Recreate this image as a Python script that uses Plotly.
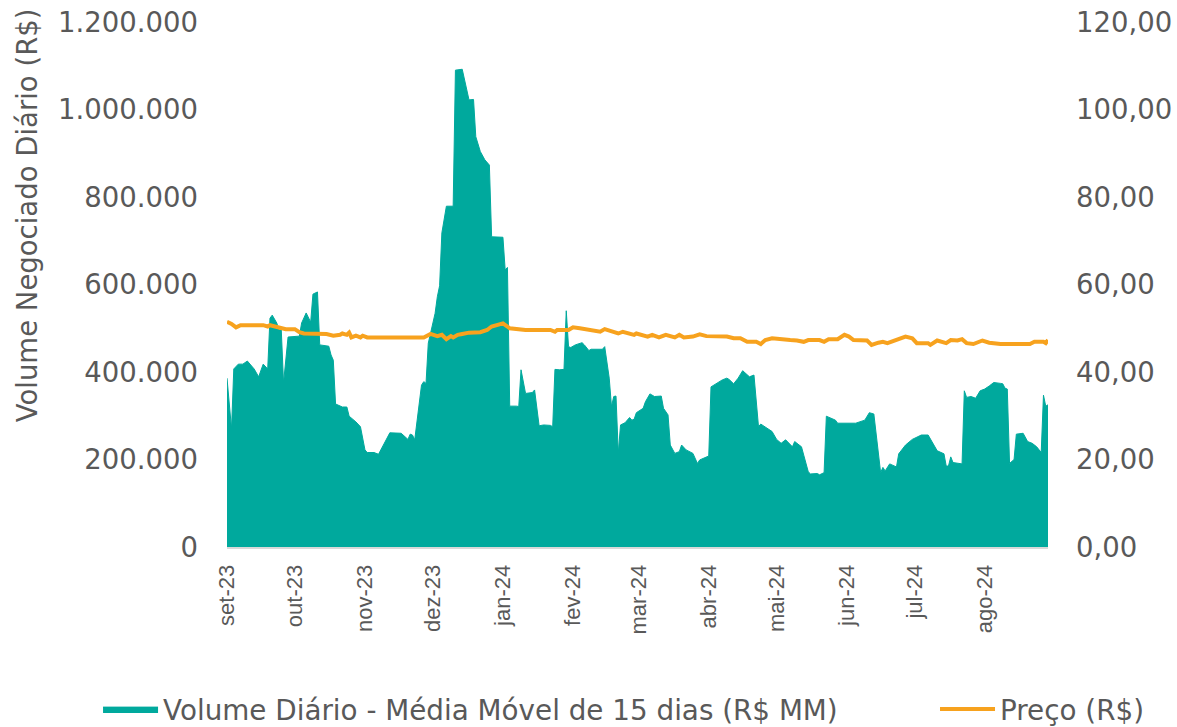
import pandas as pd
import plotly.graph_objects as go

start_date = "2023-09-01"

# Volume (15-day moving average), thousands of R$ ; day offsets from start_date
vol_days = [0, 2, 3, 5, 7, 9, 12, 14, 16, 18, 19, 20, 22, 23, 24, 25, 27, 32, 33, 35, 37, 38, 40, 41, 45, 46, 47, 48,
            51, 53, 54, 57, 59, 61, 62, 65, 67, 72, 77, 80, 81, 82, 83, 86, 87, 88, 89, 92, 93, 94, 95, 97, 100, 101,
            104, 107, 109, 110, 112, 114, 116, 117, 122, 123, 124, 125, 128, 129, 130, 132, 135, 136, 138, 140, 143,
            144, 145, 147, 149, 150, 151, 152, 154, 157, 158, 160, 161, 166, 167, 169, 170, 171, 172, 173, 174, 176,
            178, 179, 180, 181, 184, 185, 187, 189, 192, 193, 195, 196, 198, 200, 201, 203, 206, 208, 209, 213, 214,
            217, 219, 221, 222, 224, 226, 228, 230, 231, 233, 235, 236, 238, 241, 243, 245, 247, 250, 251, 254, 255,
            257, 258, 261, 262, 264, 265, 269, 270, 278, 282, 284, 286, 289, 290, 291, 293, 296, 297, 300, 303, 307,
            310, 312, 314, 317, 318, 319, 320, 321, 325, 326, 327, 329, 331, 333, 335, 337, 339, 342, 343, 344, 345,
            346, 348, 349, 352, 354, 356, 358, 360, 361, 362, 363]
vol_k = [386, 270, 407, 418, 418, 425, 407, 389, 418, 407, 523, 530, 512, 496, 496, 375, 480, 482, 512, 535, 514, 578,
         583, 462, 459, 439, 427, 327, 320, 320, 299, 286, 275, 222, 216, 216, 212, 261, 260, 246, 258, 256, 245, 370,
         378, 374, 466, 534, 572, 597, 718, 779, 779, 1090, 1092, 1022, 1023, 938, 904, 885, 873, 709, 708, 633, 639,
         322, 322, 321, 405, 351, 353, 359, 277, 279, 278, 275, 406, 405, 406, 540, 458, 456, 462, 467, 462, 449, 452,
         452, 458, 386, 321, 344, 345, 214, 279, 284, 296, 290, 292, 307, 317, 332, 350, 344, 345, 317, 302, 233, 214,
         218, 233, 222, 214, 191, 199, 208, 366, 376, 382, 386, 383, 373, 386, 403, 393, 389, 393, 275, 281, 274, 264,
         246, 237, 245, 229, 241, 229, 210, 172, 167, 168, 165, 170, 299, 290, 283, 283, 290, 307, 304, 170, 182, 174,
         190, 183, 213, 233, 246, 256, 256, 237, 220, 213, 185, 185, 206, 193, 190, 357, 342, 344, 340, 357, 361, 368,
         376, 374, 373, 363, 361, 191, 200, 258, 260, 241, 237, 229, 216, 347, 322, 325]

# Price (R$)
price_days = [0, 2, 4, 6, 16, 18, 19, 24, 26, 30, 32, 34, 44, 47, 50, 51, 53, 54, 55, 57, 59, 60, 62, 87, 90, 93, 95,
              97, 99, 100, 102, 104, 107, 112, 115, 117, 119, 122, 124, 125, 132, 143, 145, 146, 151, 153, 156, 158,
              165, 167, 170, 173, 175, 180, 181, 186, 188, 191, 194, 198, 200, 202, 206, 209, 212, 221, 224, 227, 230,
              234, 236, 238, 241, 244, 249, 252, 255, 257, 262, 264, 266, 270, 273, 275, 277, 283, 285, 288, 290, 292,
              296, 300, 303, 305, 310, 311, 314, 318, 320, 323, 325, 327, 330, 334, 337, 342, 355, 357, 361, 362, 363]
price = [51.5, 51.0, 50.2, 50.7, 50.7, 50.4, 50.7, 50.2, 49.8, 49.8, 49.1, 48.8, 48.7, 48.3, 48.5, 48.8, 48.5, 49.0,
         47.9, 48.3, 47.9, 48.3, 47.9, 47.9, 48.7, 48.2, 48.5, 47.5, 48.2, 47.9, 48.5, 48.7, 49.0, 49.1, 49.6, 50.4,
         50.7, 51.1, 50.4, 50.0, 49.6, 49.6, 49.2, 49.6, 49.6, 50.2, 50.0, 49.8, 49.2, 49.8, 49.4, 48.8, 49.2, 48.5,
         48.8, 48.1, 48.5, 47.9, 48.5, 47.9, 48.5, 47.9, 48.1, 48.6, 48.2, 48.1, 47.7, 47.7, 46.9, 46.9, 46.4, 47.3,
         47.7, 47.5, 47.3, 47.2, 46.9, 47.3, 47.3, 46.9, 47.5, 47.5, 48.5, 48.1, 47.3, 47.2, 46.2, 46.7, 46.9, 46.6,
         47.3, 48.1, 47.7, 46.6, 46.6, 46.2, 47.2, 46.6, 47.3, 47.2, 47.5, 46.6, 46.4, 47.2, 46.7, 46.4, 46.4, 46.9,
         46.9, 46.6, 47.3]

tick_dates = ["2023-09-01", "2023-10-01", "2023-11-01", "2023-12-01", "2024-01-01", "2024-02-01", "2024-03-01",
              "2024-04-01", "2024-05-01", "2024-06-01", "2024-07-01", "2024-08-01"]
tick_text = ["set-23", "out-23", "nov-23", "dez-23", "jan-24", "fev-24", "mar-24", "abr-24", "mai-24", "jun-24",
             "jul-24", "ago-24"]

y_title = "Volume Negociado Diário (R$)"

base = pd.Timestamp(start_date)
vol_x = [base + pd.Timedelta(days=d) for d in vol_days]
vol_y = [v * 1000 for v in vol_k]
price_x = [base + pd.Timedelta(days=d) for d in price_days]

TEAL = "#00A99D"
ORANGE = "#F7A21E"
GREY = "#595959"
FONT = "DejaVu Sans"

fig = go.Figure()
fig.add_trace(go.Scatter(
    x=vol_x, y=vol_y, name="Volume Diário - Média Móvel de 15 dias (R$ MM)",
    mode="lines", fill="tozeroy", fillcolor=TEAL, line=dict(color=TEAL, width=1),
    yaxis="y", legend="legend"))
fig.add_trace(go.Scatter(
    x=price_x, y=price, name="Preço (R$)", mode="lines",
    line=dict(color=ORANGE, width=4), yaxis="y2", legend="legend2"))

legend_common = dict(orientation="h", xref="container", yref="container",
                     y=0.024, xanchor="left", yanchor="middle",
                     font=dict(size=27.8, color=GREY, family=FONT), itemwidth=55,
                     bgcolor="rgba(0,0,0,0)")

fig.update_layout(
    width=1177, height=727,
    margin=dict(l=227, r=129, t=22, b=180, autoexpand=False),
    paper_bgcolor="white", plot_bgcolor="white",
    separators=",.",
    font=dict(family=FONT, color=GREY, size=27),
    showlegend=True,
    legend=dict(x=0.0833, **legend_common),
    legend2=dict(x=0.7944, **legend_common),
    xaxis=dict(type="date", range=[vol_x[0], vol_x[-1]],
               tickvals=tick_dates, ticktext=tick_text, tickangle=-90,
               tickfont=dict(family="Liberation Sans", size=22, color=GREY),
               ticklabelstandoff=7,
               showgrid=False, zeroline=False, showline=True,
               linecolor="#D9D9D9", linewidth=2, ticks=""),
    yaxis=dict(range=[0, 1200000], dtick=200000, tickformat=",d",
               showgrid=False, zeroline=False, showline=False, ticks="",
               ticklabelstandoff=28,
               tickfont=dict(size=27.5, color=GREY, family=FONT)),
    yaxis2=dict(range=[0, 120], dtick=20, tickformat=".2f", overlaying="y", side="right",
                showgrid=False, zeroline=False, showline=False, ticks="",
                ticklabelstandoff=27, tickfont=dict(size=27.5, color=GREY, family=FONT)),
    annotations=[dict(text=y_title, textangle=-90, xref="paper", yref="paper",
                      x=-0.2436, y=0.632, xanchor="center", yanchor="middle", showarrow=False,
                      font=dict(family=FONT, size=27.5, color=GREY))],
)

fig.write_html("out.html", config={"displayModeBar": False},
               post_script="document.body.style.margin='0px';")
